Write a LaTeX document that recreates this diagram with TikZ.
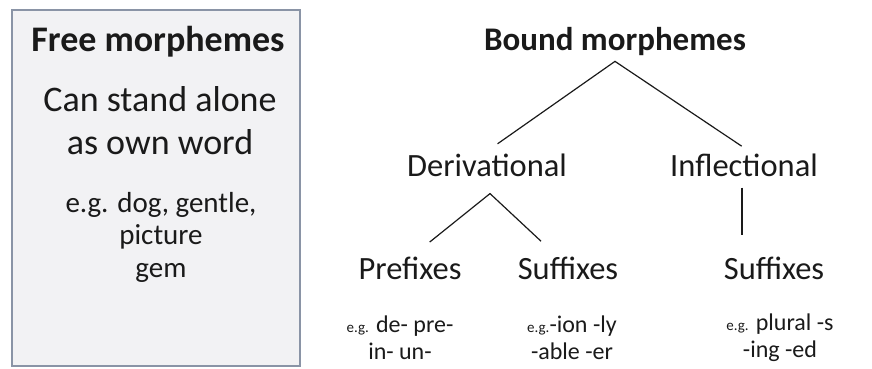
\documentclass[tikz,border=0pt]{standalone}
\usepackage{fontspec}
\setmainfont{Carlito}
\usetikzlibrary{positioning}
\definecolor{boxfill}{HTML}{F2F2F4}
\definecolor{boxline}{HTML}{8A94A6}
\definecolor{ink}{HTML}{1A1A1A}

\begin{document}
\begin{tikzpicture}[x=1pt,y=-1pt,text=ink,
  head/.style={font=\fontsize{34}{38}\selectfont\bfseries,inner sep=5pt},
  term/.style={font=\fontsize{32.5}{43}\selectfont,inner sep=5pt,align=center},
  ex/.style={font=\fontsize{29}{32.5}\selectfont,align=center},
  affix/.style={font=\fontsize{24}{27}\selectfont,align=center},
  branch/.style={draw=ink,line width=1.2pt}]
\useasboundingbox (0,0) rectangle (872,369);

\node[draw=boxline,fill=boxfill,line width=1.5pt,minimum width=288pt,minimum height=356pt] at (156,188) (freebox) {};
\node[head,font=\fontsize{36}{40}\selectfont\bfseries] at (158,42) (free) {Free morphemes};
\node[term,font=\fontsize{36}{43}\selectfont] at (160,121) (alone) {Can stand alone\\as own word};
\node[ex] at (161,237) (freeex) {e.g. dog, gentle,\\picture\\gem};

\node[head,font=\fontsize{33}{38}\selectfont\bfseries] at (615,42) (bound) {Bound morphemes};
\node[term] at (487,165) (deriv) {Derivational};
\node[term] at (744,165) (infl) {Inflectional};
\node[term] at (410,268) (pre) {Prefixes};
\node[term] at (568,268) (dsuf) {Suffixes};
\node[term] at (774,268) (isuf) {Suffixes};

\node[affix] at (400,338) (preex) {{\fontsize{15}{15}\selectfont e.g.} de- pre-\\in- un-};
\node[affix] at (572,338) (dsufex) {{\fontsize{15}{15}\selectfont e.g.}-ion -ly\\-able -er};
\node[affix] at (780,338) (isufex) {{\fontsize{15}{15}\selectfont e.g.} plural -s\\-ing -ed};

% tree branches
\draw[branch,shorten <=4pt,shorten >=8pt] ([xshift=1pt]infl.north) -- (bound.south) -- ([xshift=4pt]deriv.north);
\draw[branch,shorten <=15pt,shorten >=15pt] ([xshift=8pt]pre.north) -- ([xshift=3pt,yshift=-12pt]deriv.south) -- ([xshift=-16pt]dsuf.north);
\draw[branch,shorten <=6pt,shorten >=16pt] ([xshift=-2pt]infl.south) -- ([xshift=-2pt]infl.south |- isuf.north);
\end{tikzpicture}
\end{document}
